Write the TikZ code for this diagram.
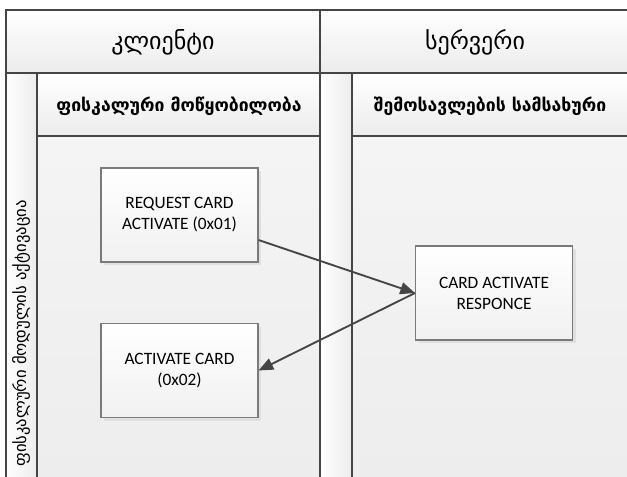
\documentclass[tikz,border=0pt]{standalone}
\usepackage{fontspec}
\setmainfont{Carlito}
\newfontfamily\geo{DejaVu Sans}
\usetikzlibrary{arrows.meta,shadows,calc}
\definecolor{lineC}{HTML}{454545}
\definecolor{boxline}{HTML}{7A7A7A}
\definecolor{lanetop}{HTML}{F4F4F4}
\definecolor{lanebot}{HTML}{EDEDED}
\definecolor{hdrtop}{HTML}{FFFFFF}
\definecolor{hdrbot}{HTML}{ECECEC}
\tikzset{
  lanebody/.style={top color=lanetop,bottom color=lanebot},
  hdrcell/.style={top color=hdrtop,bottom color=hdrbot},
  strip/.style={left color=white,right color=hdrbot},
  sep/.style={draw=lineC,line width=1.6pt},
  procbox/.style={draw=boxline,line width=0.8pt,top color=white,bottom color=lanebot!80,
    minimum width=117.75pt,minimum height=70.5pt,inner sep=0pt,align=center,
    font=\fontsize{13}{15.75}\selectfont,
    drop shadow={shadow xshift=2.5pt,shadow yshift=-2.5pt,fill=black!12,opacity=1}},
  flow/.style={draw=lineC,line width=1.4pt,-{Triangle[length=11pt,width=9pt]}},
  hdrtext/.style={font=\geo\fontsize{18}{21}\selectfont,inner sep=0pt},
  lanetext/.style={font=\geo\bfseries\fontsize{13.2}{16}\selectfont,inner sep=0pt},
  vtext/.style={font=\geo\fontsize{12.5}{15}\selectfont,inner sep=0pt}
}
\begin{document}
\begin{tikzpicture}[x=0.75pt,y=-0.75pt]
\useasboundingbox (0,0) rectangle (627,477);
\begin{scope}
\clip (0,0) rectangle (627,477);
\fill[white] (0,0) rectangle (627,477);
% lane bodies
\shade[lanebody] (6,136) rectangle (320,480);
\shade[lanebody] (352,136) rectangle (630,480);
% strips
\shade[strip] (6,73) rectangle (37,480);
\shade[strip] (320,73) rectangle (352,480);
% header cells
\shade[hdrcell] (6,10) rectangle (320,73);
\shade[hdrcell] (320,10) rectangle (630,73);
\shade[hdrcell] (37,73) rectangle (320,136);
\shade[hdrcell] (352,73) rectangle (630,136);
% separators
\draw[sep] (630,10) -- (6,10) -- (6,480);
\draw[sep] (6,73) -- (630,73);
\draw[sep] (37,136) -- (320,136);
\draw[sep] (352,136) -- (630,136);
\draw[sep] (320,10) -- (320,480);
\draw[sep] (37,73) -- (37,480);
\draw[sep] (352,73) -- (352,480);
% texts
\node[hdrtext] (client) at (163,42) {კლიენტი};
\node[hdrtext] (server) at (475,42) {სერვერი};
\node[lanetext] (fiscal) at (179,106) {ფისკალური მოწყობილობა};
\node[lanetext] (revenue) at (490,106) {შემოსავლების სამსახური};
\node[vtext,rotate=90,anchor=east] (phase) at (21,200) {ფისკალური მოდულის აქტივაცია};
% boxes
\node[procbox] (req) at (179.5,215) {REQUEST CARD\\ACTIVATE (0x01)};
\node[procbox] (act) at (179.5,370.5) {ACTIVATE CARD\\(0x02)};
\node[procbox] (resp) at (494,293) {CARD ACTIVATE\\RESPONCE};
% connectors
\draw[flow] ([yshift=-18.75pt]req.east) -- (resp.west);
\draw[flow] (resp.west) -- (act.east);
\end{scope}
\end{tikzpicture}
\end{document}
